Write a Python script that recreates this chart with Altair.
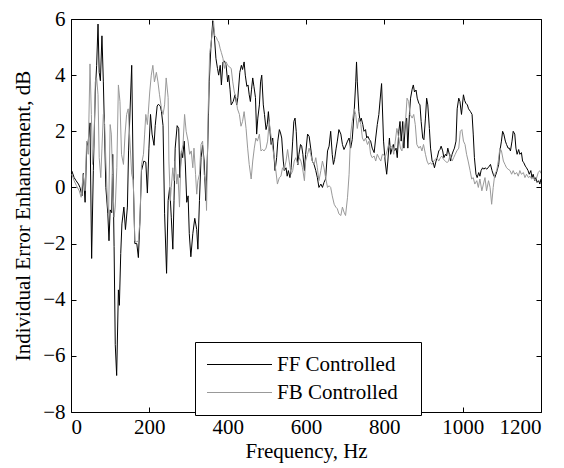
import altair as alt
import pandas as pd

# ---------------- data ----------------
SERIES = ["FF Controlled", "FB Controlled"]
X_TICKS = [0, 200, 400, 600, 800, 1000, 1200]
Y_TICKS = [-8, -6, -4, -2, 0, 2, 4, 6]

FF_HZ = [2, 8, 13, 19, 23, 28, 31.5, 36, 40, 44, 48.5, 52.7, 57, 62, 65.5, 69, 72, 75, 79, 82.6,
         86, 89, 94, 97, 100, 104, 106.5, 110, 113, 116.6, 121, 123.5, 127, 130, 135, 139, 144, 147, 155, 159,
         163, 168, 172, 176, 180, 186, 191, 195, 199, 203, 207, 212, 215, 220, 223, 228, 231, 235, 239, 244,
         248, 252, 256, 260, 263, 266, 271, 275, 278, 282, 285, 289, 292, 295.5, 299, 302, 306, 311, 316, 321,
         324, 328, 332, 336, 340, 344, 349, 353, 357, 362, 366, 370, 374, 377, 381, 384, 388, 392, 396, 400,
         402.5, 406, 409, 414, 419, 423, 426, 431, 435, 438, 442, 445, 449, 452, 455, 458, 461, 464, 467, 471,
         474, 477, 481, 484, 487, 491, 494, 498, 501, 504, 508, 511, 515, 518, 521, 525, 528, 532, 535, 538,
         542, 545, 549, 552, 555, 559, 562, 566, 569, 572, 575, 579, 582, 586, 589, 592, 596, 599, 604, 608,
         612, 616, 621, 625, 629, 633, 638, 642, 646, 650, 655, 659, 663, 667, 670, 673, 677, 680, 684, 689,
         693, 697, 701, 706, 710, 714, 718, 723, 727, 729, 731, 735, 738, 741, 745, 748, 752, 755, 758, 762,
         765, 769, 774, 778, 782, 786, 791, 793, 798, 802, 806, 809, 813, 816, 820, 823, 826, 830, 833, 837,
         840, 843, 847, 850, 854, 857, 860, 864, 867, 871, 874, 877, 881, 884, 888, 891, 894, 898, 901, 905,
         908, 911, 915, 918, 922, 925, 928, 932, 935, 939, 942, 945, 949, 952, 956, 959, 962, 966, 969, 973,
         976, 979, 983, 986, 990, 993, 997, 1002, 1005, 1008, 1012, 1015, 1020, 1024, 1027, 1030, 1034, 1037, 1041, 1044,
         1047, 1051, 1054, 1058, 1061, 1065, 1068, 1071, 1075, 1078, 1082, 1085, 1088, 1092, 1095, 1099, 1102, 1105, 1109, 1112,
         1116, 1119, 1122, 1126, 1129, 1133, 1136, 1139, 1143, 1146, 1150, 1153, 1156, 1160, 1163, 1167, 1170, 1174, 1177, 1180,
         1184, 1187, 1190, 1194, 1197, 1200]
FF_DB = [0.59, 0.35, 0.24, 0.12, 0.0, -0.3, 0.5, -0.53, 1.4, 1.65, 2.3, -2.53, 0.6, 3.4, 4.35, 5.82, 4.1, 3.8, 5.4, 3.76,
         1.76, 0.0, -0.94, -1.9, -0.8, -0.9, 1.18, -2.1, -5.6, -6.7, -3.65, -4.2, -2.35, -1.3, -0.7, -1.5, -0.7, 1.3, 4.35, 0.24,
         -2.0, -2.0, -2.5, -1.2, 0.6, 0.94, 0.9, -0.2, 1.4, 2.6, 1.9, 1.5, 2.2, 2.9, 2.96, 2.9, 2.7, 2.2, -0.94, -3.06,
         -0.47, 0.0, -1.06, -2.2, -0.47, 1.4, 2.2, 2.1, 0.35, 1.3, 1.06, 1.65, 0.8, -0.53, -0.3, -1.65, -2.47, -1.65, -1.1, -1.5,
         -2.2, -0.47, 1.06, 1.5, 0.94, -0.47, 1.4, 3.76, 4.94, 5.94, 5.4, 4.6, 4.24, 4.0, 4.35, 3.65, 4.47, 4.5, 4.35, 3.76,
         4.0, 3.5, 2.94, 3.06, 3.3, 2.94, 3.2, 4.1, 4.35, 4.2, 4.47, 4.0, 3.6, 3.65, 3.3, 3.06, 3.5, 3.9, 3.6, 3.2,
         1.9, 2.47, 2.94, 3.76, 4.0, 2.94, 2.6, 2.06, 2.24, 2.7, 2.0, 1.53, 1.76, 1.18, 0.6, 1.06, 1.65, 2.06, 1.94, 1.76,
         0.94, 0.6, 0.7, 0.4, 0.6, 0.35, 0.7, 1.65, 2.35, 2.47, 2.0, 0.8, 1.18, 1.53, 1.47, 1.18, 0.6, 1.18, 1.9, 1.82,
         1.4, 0.94, 0.8, 0.6, 0.35, 0.0, 0.12, 0.0, 0.18, 0.3, 1.3, 1.47, 2.0, 1.18, 0.82, 1.0, 1.4, 1.65, 2.06, 1.9,
         1.53, 1.35, 1.47, 1.65, 1.76, 1.4, 1.7, 2.7, 3.76, 4.47, 3.76, 2.7, 2.35, 2.47, 2.24, 2.0, 2.06, 1.76, 1.82, 1.7,
         1.65, 1.4, 1.24, 1.76, 2.24, 2.6, 3.4, 3.7, 1.65, 0.94, 0.47, 0.94, 1.76, 1.18, 1.4, 1.53, 1.3, 1.4, 1.06, 2.0,
         2.35, 1.65, 2.35, 1.4, 2.35, 2.47, 1.4, 2.6, 3.18, 3.5, 3.65, 3.4, 3.47, 3.18, 3.0, 2.94, 2.35, 1.76, 1.7, 2.47,
         3.18, 2.94, 2.1, 1.4, 0.94, 0.88, 0.7, 0.94, 1.06, 1.3, 1.35, 1.47, 1.3, 1.06, 1.18, 1.12, 1.4, 1.18, 0.94, 1.18,
         1.3, 1.4, 1.65, 2.8, 3.18, 3.06, 2.6, 3.3, 3.1, 3.0, 2.94, 2.8, 2.7, 2.6, 1.9, 1.06, 0.47, 0.35, 0.53, 0.4,
         0.6, 0.7, 0.65, 0.7, 0.65, 0.7, 0.76, 0.82, 0.6, 0.47, 0.35, 0.47, 0.6, 0.82, 1.3, 1.65, 2.0, 1.9, 1.65, 1.53,
         1.4, 1.4, 1.3, 1.65, 2.0, 1.9, 1.4, 1.18, 1.35, 1.18, 1.24, 0.94, 0.88, 0.76, 0.7, 0.6, 0.47, 0.6, 0.35, 0.47,
         0.24, 0.35, 0.18, 0.24, 0.12, 0.3]

FB_HZ = [2, 8, 14, 21, 26, 31, 36, 40, 44, 48.5, 52, 55, 59, 62, 65.5, 69, 72, 76, 79, 82.6,
         86, 89, 93, 96, 100, 103, 106, 110, 113, 117, 121, 125, 129, 134, 138, 142, 146, 150, 155, 159,
         163, 168, 172, 176, 180, 185, 188, 191, 195, 197, 201, 205, 209, 213, 218, 222, 226, 231, 235, 239,
         243, 248, 250, 253.5, 256, 260, 263, 266, 270, 273, 277, 281, 286, 290, 294, 299, 303, 307, 311, 314,
         318, 321, 324, 328, 332, 336, 340, 344, 346, 350, 354, 357, 360.5, 364, 367, 371, 374, 377, 381, 384,
         388, 392, 396, 400, 404, 409, 413, 417, 421, 425, 430, 434, 438, 442, 447, 451, 455, 460, 464, 468,
         472, 476, 481, 485, 489, 493, 498, 502, 506, 510, 515, 519, 523, 527, 532, 536, 540, 544, 549, 553,
         557, 562, 566, 570, 574, 579, 583, 587, 591, 596, 599, 604, 608, 612, 616, 621, 625, 629, 633, 638,
         642, 646, 650, 655, 659, 663, 667, 672, 676, 680, 684, 689, 693, 697, 701, 706, 710, 714, 718, 723,
         727, 731, 735, 740, 744, 748, 752, 757, 761, 765, 769, 774, 778, 782, 786, 791, 795, 798, 802, 807,
         811, 815, 820, 824, 828, 832, 837, 841, 845, 849, 854, 858, 862, 866, 871, 875, 879, 883, 888, 892,
         896, 900, 905, 909, 913, 917, 922, 926, 930, 934, 939, 943, 947, 951, 956, 960, 964, 968, 973, 977,
         981, 985, 990, 994, 998, 1002, 1006, 1010, 1014, 1019, 1023, 1027, 1031, 1036, 1040, 1044, 1049, 1053, 1057, 1061,
         1066, 1070, 1074, 1078, 1082, 1087, 1091, 1095, 1099, 1104, 1108, 1112, 1116, 1121, 1125, 1129, 1133, 1138, 1142, 1146,
         1150, 1155, 1159, 1163, 1168, 1172, 1176, 1180, 1185, 1189, 1193, 1197, 1200]
FB_DB = [0.47, 0.24, 0.06, -0.12, -0.35, 0.47, -0.12, 1.65, 1.18, 4.4, 2.6, 0.82, 1.76, 3.76, 3.9, 3.3, 1.06, 0.35, 1.4, 2.6,
         2.24, 0.94, -0.47, -0.94, 2.24, 1.9, 0.47, -1.06, -0.7, 0.7, 3.65, 3.06, 1.18, 0.82, 1.9, 2.6, 2.8, 1.76, 0.47, 0.24,
         -1.9, -1.94, -1.9, -1.2, 0.82, 1.18, 1.9, 2.6, 2.24, 2.6, 3.4, 4.0, 4.35, 3.76, 4.1, 3.76, 3.3, 2.8, 2.6, 2.94,
         3.9, 3.2, 0.94, -0.47, 0.0, 0.7, 0.24, 0.94, 0.12, 0.47, -0.7, 1.18, 1.53, 2.6, 2.0, 1.65, 1.18, 1.3, 0.7, 1.4,
         0.47, -0.24, 0.24, 0.47, 1.53, 1.65, 0.47, 0.24, -0.82, 2.6, 4.8, 5.06, 5.5, 5.9, 5.4, 5.35, 5.24, 5.18, 4.94, 4.8,
         4.6, 4.24, 4.47, 4.35, 4.3, 4.24, 3.76, 3.4, 3.2, 2.8, 2.6, 2.18, 2.35, 2.7, 2.1, 1.4, 0.82, 0.3, 0.94, 1.4,
         1.76, 1.65, 1.9, 1.3, 1.35, 1.3, 1.4, 1.65, 2.35, 1.9, 1.4, 1.06, 0.6, 0.12, 0.35, 0.4, 0.7, 0.6, 0.94, 1.35,
         0.94, 0.47, 0.6, 0.94, 1.06, 0.82, 1.06, 0.94, 0.7, 0.24, 0.94, 1.18, 1.4, 1.18, 0.94, 0.82, 1.06, 0.7, 0.24, 0.6,
         0.94, 0.7, 0.35, 0.0, 0.06, 0.0, -0.3, -0.6, -0.7, -0.76, -0.94, -1.0, -0.7, -0.88, -1.0, -0.35, 0.47, 1.9, 2.35, 2.8,
         2.6, 2.1, 2.47, 2.24, 1.76, 1.65, 1.76, 1.53, 1.65, 1.18, 1.06, 1.12, 0.94, 1.18, 1.06, 0.94, 1.18, 1.18, 1.06, 1.3,
         1.53, 1.4, 1.47, 1.18, 1.65, 2.1, 1.76, 1.4, 1.3, 1.9, 2.35, 3.18, 3.06, 2.6, 2.47, 2.6, 2.24, 1.53, 1.4, 1.47,
         1.3, 1.53, 1.18, 0.94, 0.82, 0.88, 0.82, 0.94, 1.0, 1.06, 0.94, 1.06, 1.12, 1.0, 0.94, 0.88, 0.94, 1.18, 0.94, 1.06,
         1.18, 1.3, 1.4, 2.0, 2.06, 1.65, 1.53, 1.18, 0.94, 0.6, 0.3, 0.35, 0.12, 0.24, 0.0, 0.3, -0.12, 0.12, 0.35, -0.12,
         0.24, 0.0, -0.6, 0.0, 0.47, 0.6, 0.94, 1.4, 1.3, 0.94, 0.82, 0.7, 0.65, 0.6, 0.47, 0.6, 0.47, 0.53, 0.4, 0.6,
         0.47, 0.53, 0.35, 0.47, 0.35, 0.4, 0.3, 0.35, 0.24, 0.35, 0.53, 0.6, 0.5]

df = pd.concat([
    pd.DataFrame({"hz": FF_HZ, "db": FF_DB, "series": SERIES[0]}),
    pd.DataFrame({"hz": FB_HZ, "db": FB_DB, "series": SERIES[1]}),
], ignore_index=True)

W, H = 470, 393
FONT = "Liberation Serif, Times New Roman, Times, serif"
FS = 21

xs = alt.Scale(domain=[0, 1200], nice=False, zero=False)
ys = alt.Scale(domain=[-8, 6], nice=False, zero=False)

base = alt.Chart(df)

lines = base.mark_line(strokeWidth=1, clip=True).encode(
    x=alt.X("hz:Q", scale=xs,
            axis=alt.Axis(values=X_TICKS, format="d", title="Frequency, Hz", tickSize=0,
                          domain=False, grid=False, labelPadding=4, titlePadding=3)),
    y=alt.Y("db:Q", scale=ys,
            axis=alt.Axis(values=Y_TICKS, format="d", title="Individual Error Enhancement, dB",
                          tickSize=0, domain=False, grid=False, labelPadding=6, titlePadding=9)),
    color=alt.Color("series:N",
                    scale=alt.Scale(domain=SERIES, range=["#000000", "#999999"]),
                    legend=alt.Legend(title=None, orient="none", legendX=124, legendY=323,
                                      direction="vertical", strokeColor="#000000",
                                      fillColor="#ffffff", padding=12,
                                      symbolType="M-8,0H8", symbolSize=66,
                                      symbolStrokeWidth=1, symbolOffset=22,
                                      labelOffset=27, rowPadding=6,
                                      labelExpr="datum.label + '\u00a0\u00a0\u200b'",
                                      labelFont=FONT, labelFontSize=FS, labelColor="#000000",
                                      labelLimit=400)),
)

ticks_in_a = base.mark_line(opacity=0).encode(
    x=alt.X("hz:Q", scale=xs,
            axis=alt.Axis(orient="top", offset=-H, values=X_TICKS, labels=False, domain=False,
                          grid=False, tickSize=5, title="")),
    y=alt.Y("db:Q", scale=ys,
            axis=alt.Axis(orient="right", offset=-W, values=Y_TICKS, labels=False, domain=False,
                          grid=False, tickSize=5, title="")),
    detail="series:N",
)

ticks_in_b = base.mark_line(opacity=0).encode(
    x=alt.X("hz:Q", scale=xs,
            axis=alt.Axis(orient="bottom", offset=-H, values=X_TICKS, labels=False, domain=False,
                          grid=False, tickSize=5, title="")),
    y=alt.Y("db:Q", scale=ys,
            axis=alt.Axis(orient="left", offset=-W, values=Y_TICKS, labels=False, domain=False,
                          grid=False, tickSize=5, title="")),
    detail="series:N",
)

chart = alt.layer(lines, ticks_in_a, ticks_in_b).resolve_axis(
    x="independent", y="independent"
).properties(
    width=W, height=H,
    autosize=alt.AutoSizeParams(type="none"),
    padding={"left": 71, "top": 19, "right": 23, "bottom": 56},
    background="#ffffff",
).configure_view(
    stroke="#000000", strokeWidth=1
).configure_axis(
    labelFont=FONT, labelFontSize=FS, labelColor="#000000",
    titleFont=FONT, titleFontSize=FS, titleColor="#000000", titleFontWeight="normal",
    tickColor="#000000", tickWidth=1,
)

chart.save("out.html", embed_options={"renderer": "svg", "actions": False})
